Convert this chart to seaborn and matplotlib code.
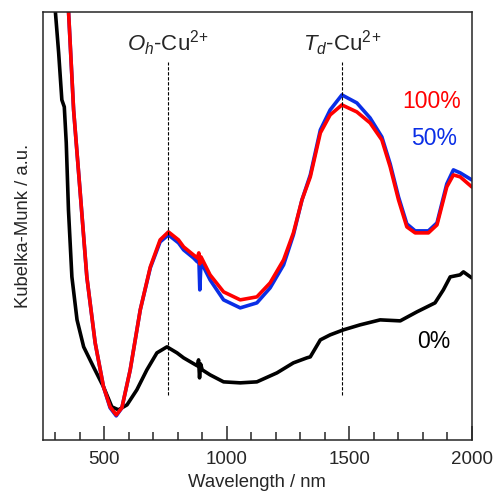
import numpy as np
import pandas as pd
import matplotlib
matplotlib.use('Agg')
import matplotlib.pyplot as plt
from matplotlib.ticker import MultipleLocator
import seaborn as sns

# wavelength (nm) / Kubelka-Munk (a.u.)
wl_0 = [300, 314, 327, 337, 345, 354, 368, 389, 416, 456, 497, 531, 558, 593,
        633, 674, 715, 756, 797, 824, 880, 885, 889, 893, 900, 932, 987, 1055,
        1123, 1205, 1272, 1327, 1341, 1382, 1422, 1476, 1544, 1626, 1708, 1776,
        1850, 1884, 1912, 1952, 1966, 2000]
km_0 = [430, 387, 340, 333, 297, 230, 163, 120, 93, 73, 53, 33, 30, 35,
        50, 70, 87, 93, 87, 82, 74, 80, 62, 76, 70, 65, 58, 57,
        58, 67, 77, 82, 83, 100, 105, 110, 115, 120, 119, 128,
        137, 150, 163, 165, 168, 162]

wl_50 = [354, 375, 402, 429, 463, 497, 524, 549, 572, 606, 647, 688, 728, 762,
         803, 824, 864, 880, 886, 890, 895, 932, 987, 1055, 1123, 1177, 1232,
         1272, 1307, 1341, 1382, 1422, 1470, 1531, 1585, 1633, 1667, 1701, 1735,
         1769, 1823, 1858, 1898, 1925, 1953, 2000]
km_50 = [430, 330, 247, 163, 97, 53, 32, 24, 32, 70, 130, 172, 198, 205,
         197, 190, 182, 178, 183, 150, 178, 160, 140, 132, 137, 152, 175,
         205, 240, 265, 310, 330, 345, 337, 322, 303, 276, 243, 216,
         209, 209, 217, 256, 270, 267, 260]

wl_100 = [354, 375, 402, 429, 463, 497, 524, 549, 572, 606, 647, 688, 728, 762,
          803, 824, 864, 880, 886, 890, 895, 932, 987, 1055, 1123, 1177, 1232,
          1272, 1307, 1341, 1382, 1422, 1470, 1531, 1585, 1633, 1667, 1701, 1735,
          1769, 1823, 1858, 1898, 1925, 1953, 2000]
km_100 = [430, 330, 247, 163, 97, 53, 33, 25, 32, 70, 130, 173, 200, 208,
          200, 193, 185, 182, 187, 176, 183, 165, 148, 140, 143, 157, 180,
          207, 240, 263, 307, 325, 335, 328, 317, 300, 273, 240, 213,
          207, 207, 215, 253, 265, 263, 253]

peak_pos = [760, 1470]
peak_names = [r'$\mathit{O_h}$-$\mathregular{Cu^{2\!+}}$',
              r'$\mathit{T_d}$-$\mathregular{Cu^{2\!+}}$']

blue = '#0a2ee6'

sns.set_style('ticks')
plt.rcParams['font.family'] = ['Liberation Sans', 'DejaVu Sans']
plt.rcParams['mathtext.fontset'] = 'custom'
plt.rcParams['mathtext.rm'] = 'Liberation Sans'
plt.rcParams['mathtext.it'] = 'Liberation Sans:italic'
plt.rcParams['lines.solid_joinstyle'] = 'round'

fig = plt.figure(figsize=(4.94, 4.97), dpi=100)
ax = fig.add_axes([0.087, 0.115, 0.868, 0.861])

sns.lineplot(x=wl_0, y=km_0, color='black', lw=2.6, ax=ax)
sns.lineplot(x=wl_50, y=km_50, color=blue, lw=2.6, ax=ax)
sns.lineplot(x=wl_100, y=km_100, color='red', lw=2.6, ax=ax)

for p, name in zip(peak_pos, peak_names):
    ax.plot([p, p], [45, 378], color='black', ls=(0, (3, 1.5)), lw=0.8)
    ax.text(p, 397, name, ha='center', va='center', fontsize=16)

ax.text(1838, 338, '100%', color='red', ha='center', va='center', fontsize=16.5)
ax.text(1846, 301, '50%', color=blue, ha='center', va='center', fontsize=16.5)
ax.text(1844, 98, '0%', color='black', ha='center', va='center', fontsize=16.5)

ax.set_xlim(250, 2000)
ax.set_ylim(0, 428)
ax.xaxis.set_major_locator(MultipleLocator(500))
ax.xaxis.set_minor_locator(MultipleLocator(100))
ax.tick_params(axis='x', which='major', direction='in', length=10, width=1.1,
               labelsize=13.5, pad=8)
ax.tick_params(axis='x', which='minor', direction='in', length=5.5, width=1.1)
ax.set_yticks([])
for s in ax.spines.values():
    s.set_linewidth(1.1)
    s.set_visible(True)

ax.set_xlabel('Wavelength / nm', fontsize=13.3, labelpad=4)
ax.set_ylabel('Kubelka-Munk / a.u.', fontsize=13.3, labelpad=8)

fig.savefig('out.png', dpi=100)
